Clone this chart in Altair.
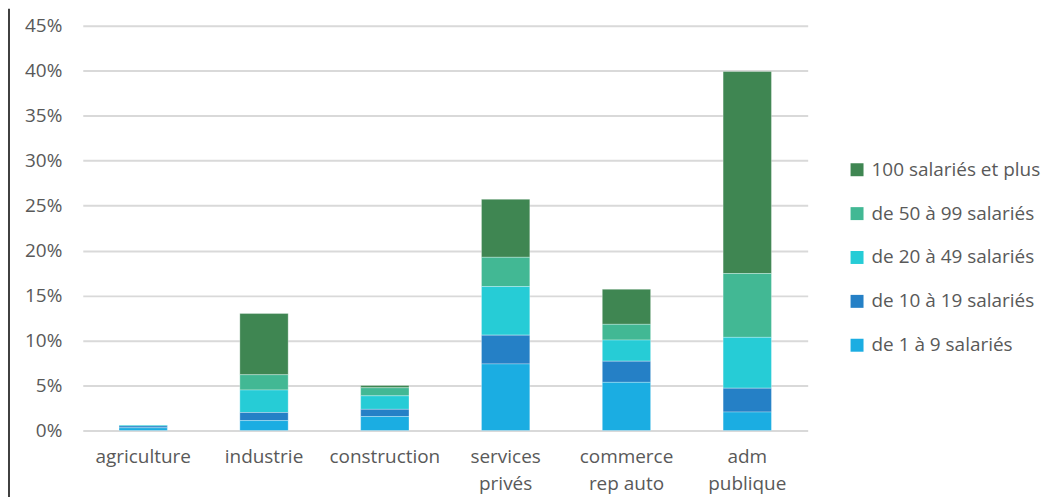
import altair as alt
import pandas as pd

categories = ["agriculture", "industrie", "construction", "services|privés", "commerce|rep auto", "adm|publique"]
series = ["100 salariés et plus", "de 50 à 99 salariés", "de 20 à 49 salariés", "de 10 à 19 salariés", "de 1 à 9 salariés"]
colors = ["#3F8652", "#42B894", "#26CCD6", "#2580C6", "#1BADE2"]

# values in percent
s100 = [0.0, 6.8, 0.25, 6.45, 3.9, 22.45]
s50_99 = [0.0, 1.7, 0.9, 3.25, 1.75, 7.1]
s20_49 = [0.1, 2.5, 1.5, 5.4, 2.35, 5.65]
s10_19 = [0.2, 0.9, 0.8, 3.2, 2.35, 2.65]
s1_9 = [0.3, 1.1, 1.55, 7.4, 5.35, 2.05]

values_by_series = [s100, s50_99, s20_49, s10_19, s1_9]

rows = []
for si, (name, vals) in enumerate(zip(series, values_by_series)):
    for cat, v in zip(categories, vals):
        rows.append({"cat": cat, "serie": name, "value": v / 100.0, "ord": len(series) - si})
df = pd.DataFrame(rows)

FONT = "Open Sans"
GRAY = "#595959"
FS = 19

bars = alt.Chart(df).mark_bar(stroke="#ffffff", strokeWidth=0.6, strokeOpacity=0.5).encode(
    x=alt.X("cat:N", sort=categories, title=None,
            scale=alt.Scale(paddingInner=0.6, paddingOuter=0.3),
            axis=alt.Axis(labelExpr="split(datum.label, '|')", labelAngle=0,
                          labelFont=FONT, labelFontSize=FS, labelColor=GRAY,
                          labelPadding=17, labelLineHeight=27,
                          domain=False, ticks=False, grid=False)),
    y=alt.Y("value:Q", title=None, stack="zero",
            scale=alt.Scale(domain=[0, 0.45], nice=False),
            axis=alt.Axis(format=".0%", values=[i * 0.05 for i in range(10)],
                          labelFont=FONT, labelFontSize=FS, labelColor=GRAY,
                          labelPadding=21, domain=False, ticks=False,
                          grid=True, gridColor="#D9D9D9", gridWidth=2)),
    color=alt.Color("serie:N", sort=series,
                    scale=alt.Scale(domain=series, range=colors),
                    legend=alt.Legend(title=None, orient="none", legendX=767, legendY=135,
                                      symbolType="square", symbolSize=169,
                                      symbolStrokeWidth=0, labelOffset=5,
                                      labelFont=FONT, labelFontSize=FS, labelColor=GRAY,
                                      rowPadding=24, labelLimit=300)),
    order=alt.Order("ord:Q", sort="ascending"),
)

border = alt.Chart(alt.Data(values=[{}])).mark_rule(color="#404040", strokeWidth=2).encode(
    x=alt.value(-74), y=alt.value(-17), y2=alt.value(480)
)

chart = alt.layer(bars, border).properties(
    width=727, height=406,
    autosize=alt.AutoSizeParams(type="none"),
    padding={"left": 75, "top": 17, "right": 238, "bottom": 66},
).configure_view(stroke=None)

chart.save("out.html", embed_options={"renderer": "svg", "actions": False})
